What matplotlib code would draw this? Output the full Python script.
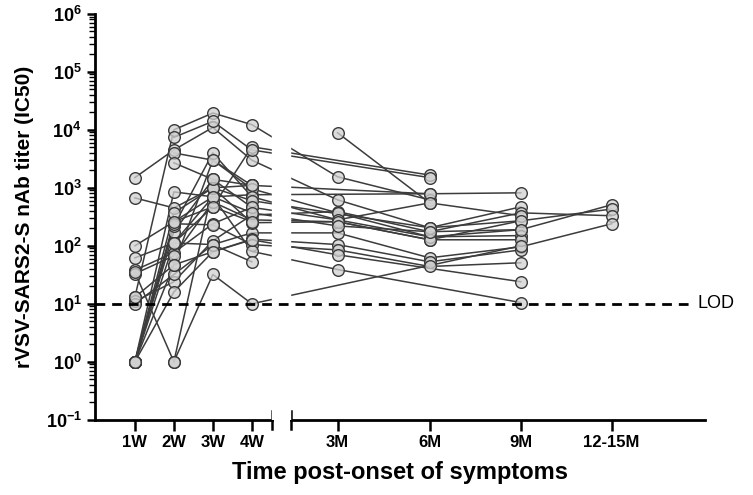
import numpy as np
import matplotlib
matplotlib.use("Agg")
import matplotlib.pyplot as plt
from matplotlib.ticker import LogLocator, NullFormatter, FixedLocator

plt.rcParams['font.family'] = ['Liberation Sans', 'DejaVu Sans']
plt.rcParams['mathtext.fontset'] = 'custom'
plt.rcParams['mathtext.rm'] = 'Liberation Sans'
plt.rcParams['mathtext.bf'] = 'Liberation Sans:bold'

nan = np.nan

# time points and where they sit on the broken axis
time_labels = ['1W', '2W', '3W', '4W', '3M', '6M', '9M', '12-15M']
time_pos = [1, 2, 3, 4, 6.2, 8.56, 10.9, 13.23]

# titer per patient (one entry per patient in each list), nan = not sampled
w1 = [1500, 670, 100, 62, 38, 33, 13, 11, 10, 1, 1, 1, 1, 1, 1, 1, 35, nan, nan, nan, nan, nan, nan, 13, 1, 1]
w2 = [4500, 450, 260, 112, 76, 67, 10000, 24, 32, 175, 47, 220, 16, 370, 240, 850, 1, 1, 7400, 4000, 2700, nan, 112, 47, 112, 260]
w3 = [11000, 1000, 700, 470, 240, 570, 19500, 122, 105, 1400, 3000, 4000, 79, 1000, 230, 700, 32, 1000, 14000, 3000, 1400, nan, 105, 79, 700, 470]
w4 = [3000, 1100, 760, 5100, 460, 280, 12300, 340, 167, 1100, 960, 700, 130, 250, 105, 80, 10, 600, 4500, 1100, 460, nan, 53, 127, 370, 260]
m3 = [620, nan, nan, nan, 280, 260, 1550, 390, 167, nan, 370, 280, 105, 260, 85, 39, nan, nan, nan, nan, nan, 8900, nan, 70, 220, nan]
m6 = [205, nan, 790, 1660, 143, 127, 620, 175, 62, nan, 143, 550, 53, 127, 44, nan, nan, 205, 1500, 790, nan, 550, nan, nan, 175, nan]
m9 = [470, nan, 820, nan, 190, 270, nan, 370, 96, nan, 150, 330, 85, 127, 51, 10.5, 100, 270, nan, nan, nan, nan, nan, 24, 190, nan]
m12 = [nan, nan, nan, nan, 510, 430, nan, 330, 240, nan, nan, nan, nan, nan, nan, nan, nan, nan, nan, nan, nan, nan, nan, nan, nan, nan]

lod = 10

titers = np.array([w1, w2, w3, w4, m3, m6, m9, m12], dtype=float).T

fig = plt.figure(figsize=(7.53, 4.95), dpi=100)
ax = fig.add_axes([0.126, 0.152, 0.81, 0.82])

line_col = '#3c3c3c'
for row in titers:
    ok = ~np.isnan(row)
    xs = np.array(time_pos)[ok]
    ys = row[ok]
    ax.plot(xs, ys, color=line_col, lw=1.1, zorder=2)
    ax.scatter(xs, ys, s=70, facecolor=(0.82, 0.82, 0.82, 0.75),
               edgecolor='#3a3a3a', linewidth=1.0, zorder=4)

# gap of the broken x axis
ax.axvspan(4.52, 4.99, color='white', zorder=3)

ax.set_yscale('log')
ax.set_ylim(0.1, 1e6)
ax.set_xlim(-0.026, 15.62)

# limit of detection
ax.plot([-0.026, 15.31], [lod, lod], color='black', lw=2, dashes=(3.5, 2.5), zorder=5, clip_on=False)
ax.text(15.42, lod, 'LOD', fontsize=13, va='center', ha='left')

# y axis
ax.yaxis.set_minor_locator(LogLocator(base=10, subs=np.arange(2, 10), numticks=12))
ax.yaxis.set_minor_formatter(NullFormatter())
ax.set_yticks([10.0 ** k for k in range(-1, 7)])
ax.set_yticklabels([r'$\mathbf{10^{%d}}$' % k for k in range(-1, 7)], fontsize=13)
ax.tick_params(axis='y', which='major', length=6, width=1.8, direction='out')
ax.tick_params(axis='y', which='minor', length=4, width=1.0, direction='out')
ax.spines['left'].set_linewidth(2)
ax.spines['top'].set_visible(False)
ax.spines['right'].set_visible(False)
ax.spines['bottom'].set_visible(False)

# broken bottom axis drawn as two pieces
trans = ax.get_xaxis_transform()
ax.plot([-0.026, 4.51], [0, 0], color='black', lw=2, transform=trans, clip_on=False)
ax.plot([5.0, 15.62], [0, 0], color='black', lw=2, transform=trans, clip_on=False)
for xb in [4.51, 5.0]:
    ax.plot([xb, xb], [-0.022, 0.022], color='black', lw=1.8, transform=trans, clip_on=False)

ax.xaxis.set_major_locator(FixedLocator(time_pos))
ax.set_xticklabels(time_labels, fontsize=12, fontweight='bold')
ax.tick_params(axis='x', length=8, width=1.8, direction='out', pad=3)

ax.set_ylabel('rVSV-SARS2-S nAb titer (IC50)', fontsize=15, fontweight='bold', labelpad=8)
ax.set_xlabel('Time post-onset of symptoms', fontsize=17, fontweight='bold', labelpad=8)

fig.savefig('out.png', dpi=100)
